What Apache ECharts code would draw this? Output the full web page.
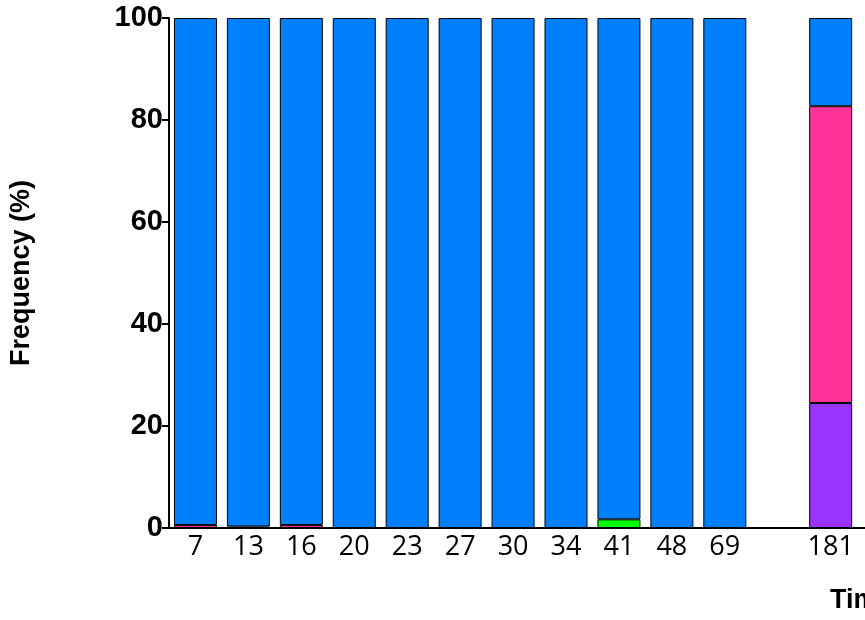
<!DOCTYPE html>
<html><head><meta charset="utf-8">
<script src="https://cdn.jsdelivr.net/npm/echarts@6/dist/echarts.min.js"></script>
<style>html,body{margin:0;padding:0;overflow:hidden;background:#fff;width:865px;height:620px}#c{width:1000px;height:620px}</style>
</head><body><div id="c"></div>
<script>
const categories = ['7','13','16','20','23','27','30','34','41','48','69','','181','',''];
const greenVals  = [null,null,null,null,null,null,null,null,1.7,null,null,null,null,null,null];
const purpleVals = [null,null,null,null,null,null,null,null,null,null,null,null,24.5,null,null];
const pinkVals   = [0.6,0.3,0.6,null,null,null,null,null,null,null,null,null,58.2,null,null];
const blueVals   = [99.4,99.7,99.4,100,100,100,100,100,98.3,100,100,null,17.3,null,null];
const yTicks = [0,20,40,60,80,100];

const chart = echarts.init(document.getElementById('c'));
const mk = (name, data, color) => ({
  name, type:'bar', stack:'s', data, barWidth:43,
  itemStyle:{color, borderColor:'#000', borderWidth:1}
});
chart.setOption({
  animation:false,
  grid:{left:169, right:37, top:18, bottom:92, containLabel:false},
  title:{text:'Time (days)', left:825, top:582, textStyle:{fontFamily:'Liberation Sans', fontWeight:'bold', fontSize:27, color:'#000'}},
  xAxis:{type:'category', data:categories,
    axisLine:{lineStyle:{color:'#000', width:2}},
    axisTick:{show:false},
    axisLabel:{color:'#000', fontFamily:'Open Sans', fontSize:27, margin:6, interval:0}},
  yAxis:{type:'value', min:0, max:100, interval:20,
    name:'Frequency (%)', nameLocation:'middle', nameGap:134, nameRotate:90,
    nameTextStyle:{fontFamily:'Liberation Sans', fontWeight:'bold', fontSize:27, color:'#000'},
    axisLine:{show:true, lineStyle:{color:'#000', width:2}},
    axisTick:{show:true, inside:false, length:7, lineStyle:{color:'#000', width:2}},
    splitLine:{show:false},
    axisLabel:{color:'#000', fontFamily:'Liberation Sans', fontWeight:'bold', fontSize:29, margin:6,
      formatter: v => yTicks.includes(v) ? String(v) : ''}},
  series:[
    mk('Green', greenVals, '#00FF00'),
    mk('Purple', purpleVals, '#9933FF'),
    mk('Pink', pinkVals, '#FF3399'),
    mk('Blue', blueVals, '#0080FF')
  ]
});
</script></body></html>
